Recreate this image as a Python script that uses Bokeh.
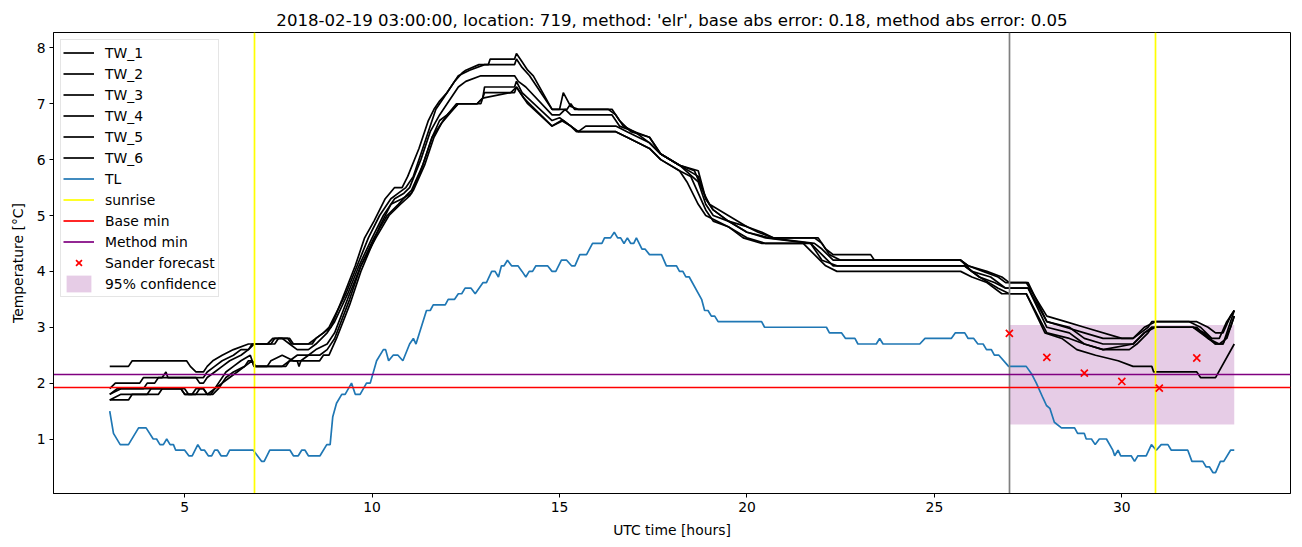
from bokeh.plotting import figure
from bokeh.models import Range1d, FixedTicker, LegendItem
from bokeh.embed import file_html
from bokeh.resources import INLINE

title_text = "2018-02-19 03:00:00, location: 719, method: 'elr', base abs error: 0.18, method abs error: 0.05"

# ---- TL (air temperature) ----
tl_hours = [3.0, 3.1, 3.28, 3.5, 3.77, 3.97, 4.16, 4.25, 4.34, 4.43, 4.52, 4.61, 4.7, 4.76, 5.0, 5.11, 5.2, 5.35, 5.44, 5.53,
            5.63, 5.72, 5.8, 5.88, 5.97, 6.12, 6.2, 6.83, 7.05, 7.12, 7.27, 7.81, 7.9, 8.03, 8.12, 8.21, 8.3, 8.61, 8.79, 8.88,
            8.95, 9.05, 9.19, 9.28, 9.45, 9.55, 9.68, 9.85, 9.95, 10.12, 10.3, 10.36, 10.44, 10.56, 10.69, 10.82, 11.0, 11.1, 11.17, 11.45,
            11.55, 11.63, 11.95, 12.03, 12.2, 12.3, 12.39, 12.48, 12.64, 12.75, 12.96, 13.05, 13.19, 13.28, 13.37, 13.45, 13.52, 13.61, 13.72, 13.89,
            14.0, 14.1, 14.19, 14.28, 14.37, 14.68, 14.8, 14.9, 15.05, 15.19, 15.32, 15.41, 15.54, 15.72, 15.88, 16.13, 16.2, 16.36, 16.46, 16.55,
            16.63, 16.72, 16.81, 16.9, 16.98, 17.05, 17.2, 17.28, 17.4, 17.72, 17.85, 18.12, 18.2, 18.29, 18.37, 18.46, 18.79, 18.87, 18.96, 19.05,
            19.14, 19.23, 20.39, 20.47, 22.12, 22.2, 22.52, 22.63, 22.88, 22.96, 23.45, 23.54, 23.63, 24.61, 24.75, 25.45, 25.56, 25.81, 25.9, 26.05,
            26.16, 26.3, 26.39, 26.52, 26.6, 26.72, 26.98, 27.45, 27.59, 27.72, 27.9, 27.99, 28.08, 28.2, 28.39, 28.74, 28.82, 29.0, 29.05, 29.19,
            29.29, 29.4, 29.59, 29.76, 29.81, 29.9, 29.97, 30.25, 30.34, 30.43, 30.65, 30.79, 30.92, 31.05, 31.23, 31.32, 31.76, 31.87, 32.16, 32.25,
            32.34, 32.43, 32.5, 32.63, 32.72, 32.9, 33.0]
tl_temp = [1.5, 1.1, 0.9, 0.9, 1.2, 1.2, 1.0, 1.0, 0.9, 0.9, 1.0, 0.9, 0.9, 0.8, 0.8, 0.7, 0.7, 0.9, 0.8, 0.8,
           0.7, 0.7, 0.8, 0.8, 0.7, 0.7, 0.8, 0.8, 0.6, 0.6, 0.8, 0.8, 0.7, 0.7, 0.8, 0.8, 0.7, 0.7, 0.9, 0.9,
           1.4, 1.64, 1.8, 1.8, 2.0, 1.8, 1.8, 2.0, 2.0, 2.4, 2.6, 2.6, 2.4, 2.5, 2.5, 2.4, 2.7, 2.8, 2.7, 3.3,
           3.3, 3.4, 3.4, 3.5, 3.5, 3.6, 3.6, 3.7, 3.7, 3.6, 3.8, 3.8, 4.0, 4.0, 3.9, 4.1, 4.1, 4.2, 4.1, 4.1,
           4.0, 3.9, 4.0, 4.0, 4.1, 4.1, 4.0, 4.0, 4.2, 4.2, 4.1, 4.1, 4.3, 4.3, 4.5, 4.5, 4.6, 4.6, 4.7, 4.6,
           4.6, 4.5, 4.6, 4.5, 4.5, 4.6, 4.4, 4.4, 4.3, 4.3, 4.1, 4.1, 4.0, 4.0, 3.9, 3.9, 3.5, 3.3, 3.3, 3.2,
           3.2, 3.1, 3.1, 3.0, 3.0, 2.9, 2.9, 2.8, 2.8, 2.7, 2.7, 2.8, 2.7, 2.7, 2.8, 2.8, 2.9, 2.9, 2.8, 2.8,
           2.7, 2.7, 2.6, 2.6, 2.5, 2.5, 2.3, 2.3, 2.17, 2.0, 1.73, 1.6, 1.55, 1.3, 1.2, 1.2, 1.1, 1.1, 1.0, 1.0,
           0.9, 1.0, 1.0, 0.8, 0.7, 0.8, 0.7, 0.7, 0.6, 0.7, 0.7, 0.9, 0.8, 0.9, 0.9, 0.8, 0.8, 0.6, 0.6, 0.5,
           0.5, 0.4, 0.4, 0.6, 0.6, 0.8, 0.8]

# ---- TW_1 ... TW_6 (surface temperatures) ----
tw1_hours = [3.0, 3.5, 3.6, 5.05, 5.15, 5.3, 5.5, 5.6, 5.75, 6.0, 6.3, 6.7, 7.4, 7.5, 7.8, 7.9, 8.4, 8.5, 8.7, 8.9,
             9.2, 9.55, 9.8, 10.05, 10.35, 10.6, 10.8, 10.95, 11.25, 11.5, 11.65, 11.8, 12.0, 12.2, 12.4, 12.5, 12.85, 13.1, 13.15, 13.8,
             13.85, 14.0, 14.15, 14.3, 14.8, 15.0, 15.1, 15.3, 15.5, 16.3, 16.5, 16.7, 17.0, 17.4, 17.7, 18.2, 18.6, 18.85, 19.0, 19.5,
             20.0, 20.4, 20.7, 21.9, 22.1, 22.3, 23.3, 23.4, 25.7, 25.9, 26.3, 26.7, 26.9, 27.45, 28.0, 28.5, 29.0, 30.0, 30.3, 30.5,
             30.7, 30.8, 32.0, 32.3, 32.5, 32.7, 32.9, 33.0]
tw1_temp = [2.3, 2.3, 2.4, 2.4, 2.3, 2.2, 2.2, 2.3, 2.4, 2.5, 2.6, 2.7, 2.7, 2.8, 2.8, 2.7, 2.7, 2.8, 2.9, 3.0,
            3.5, 4.1, 4.6, 4.9, 5.3, 5.5, 5.5, 5.7, 6.2, 6.7, 6.9, 7.05, 7.2, 7.4, 7.55, 7.6, 7.7, 7.7, 7.8, 7.8,
            7.9, 7.75, 7.6, 7.5, 6.9, 6.9, 7.2, 6.95, 6.9, 6.9, 6.8, 6.6, 6.5, 6.4, 6.1, 5.9, 5.8, 5.4, 5.2, 5.0,
            4.8, 4.7, 4.6, 4.6, 4.4, 4.3, 4.3, 4.2, 4.2, 4.1, 4.0, 3.9, 3.8, 3.8, 3.2, 3.1, 3.0, 2.8, 2.8, 2.9,
            3.0, 3.1, 3.1, 3.0, 2.9, 2.9, 3.2, 3.3]

tw2_hours = [3.0, 3.15, 3.8, 3.9, 4.4, 4.5, 4.55, 5.5, 5.6, 5.8, 6.0, 6.3, 6.5, 6.7, 6.8, 7.3, 7.4, 7.75, 7.85, 8.3,
             8.5, 8.7, 8.85, 9.3, 9.6, 9.9, 10.2, 10.5, 10.7, 10.9, 11.1, 11.35, 11.55, 11.7, 11.9, 12.1, 12.3, 12.6, 13.0, 13.8,
             13.85, 14.0, 14.2, 14.8, 15.2, 15.3, 15.4, 16.4, 16.6, 16.9, 17.4, 17.7, 18.2, 18.7, 18.9, 19.1, 19.5, 20.0, 20.3, 20.7,
             21.8, 22.0, 22.2, 22.5, 25.7, 25.9, 26.4, 26.8, 27.0, 27.5, 28.0, 28.5, 29.0, 29.5, 30.3, 30.6, 30.9, 31.8, 32.1, 32.4,
             32.6, 32.8, 33.0]
tw2_temp = [1.9, 2.0, 2.0, 2.1, 2.1, 2.2, 2.1, 2.1, 2.2, 2.3, 2.4, 2.5, 2.6, 2.6, 2.7, 2.7, 2.8, 2.8, 2.7, 2.7,
            2.8, 2.9, 3.0, 3.6, 4.1, 4.6, 5.0, 5.3, 5.4, 5.5, 5.7, 6.2, 6.6, 6.9, 7.1, 7.3, 7.5, 7.6, 7.7, 7.7,
            7.8, 7.65, 7.5, 6.9, 6.9, 7.0, 6.9, 6.9, 6.7, 6.5, 6.4, 6.1, 5.9, 5.8, 5.3, 5.1, 4.9, 4.8, 4.7, 4.6,
            4.6, 4.5, 4.3, 4.2, 4.2, 4.1, 4.0, 3.9, 3.8, 3.8, 3.1, 3.0, 2.9, 2.8, 2.8, 3.0, 3.1, 3.1, 3.0, 2.8,
            2.8, 3.1, 3.3]

tw3_hours = [3.0, 3.2, 3.9, 4.0, 4.2, 4.3, 5.3, 5.4, 5.5, 5.6, 5.8, 6.0, 6.2, 6.5, 6.7, 6.85, 7.2, 7.35, 7.6, 7.8,
             8.0, 8.3, 8.5, 8.8, 9.0, 9.35, 9.65, 10.0, 10.3, 10.6, 10.85, 11.0, 11.3, 11.55, 11.8, 12.0, 12.3, 12.5, 12.9, 13.8,
             13.9, 14.1, 14.8, 15.0, 15.15, 15.3, 16.4, 16.6, 17.0, 17.4, 17.7, 18.2, 18.7, 18.9, 19.1, 19.5, 20.0, 20.6, 21.8, 22.0,
             22.3, 25.7, 26.0, 26.5, 26.9, 27.5, 28.0, 28.6, 29.0, 29.5, 30.3, 30.6, 30.9, 31.9, 32.2, 32.5, 32.7, 32.9, 33.0]
tw3_temp = [1.8, 1.9, 1.9, 2.0, 2.0, 2.1, 2.1, 2.0, 2.0, 2.1, 2.2, 2.3, 2.4, 2.5, 2.6, 2.7, 2.7, 2.8, 2.8, 2.7,
            2.6, 2.6, 2.7, 2.9, 3.1, 3.6, 4.1, 4.6, 5.0, 5.3, 5.4, 5.5, 6.0, 6.5, 6.8, 7.0, 7.3, 7.4, 7.5, 7.5,
            7.4, 7.3, 6.8, 6.8, 6.9, 6.8, 6.8, 6.6, 6.5, 6.3, 6.1, 5.9, 5.7, 5.3, 5.1, 4.9, 4.7, 4.6, 4.5, 4.4,
            4.2, 4.2, 4.0, 3.9, 3.7, 3.7, 3.1, 3.0, 2.8, 2.7, 2.7, 2.9, 3.0, 3.0, 2.9, 2.7, 2.7, 3.0, 3.2]

tw4_hours = [3.0, 3.3, 5.0, 5.1, 5.3, 5.4, 5.5, 5.6, 5.7, 5.9, 6.1, 6.3, 6.5, 6.75, 6.85, 7.6, 7.8, 8.0, 8.3, 8.5,
             8.8, 9.0, 9.4, 9.7, 10.05, 10.4, 10.7, 10.9, 11.05, 11.35, 11.6, 11.8, 12.0, 12.3, 12.8, 12.95, 13.0, 13.8, 13.85, 14.0,
             14.8, 15.0, 15.3, 15.5, 15.7, 16.5, 16.8, 17.4, 17.7, 18.2, 18.7, 18.9, 19.1, 19.5, 20.0, 20.5, 21.7, 22.0, 22.3, 22.7,
             25.8, 26.2, 26.6, 26.9, 27.5, 28.0, 28.6, 29.0, 29.5, 30.3, 30.6, 30.8, 31.9, 32.3, 32.5, 32.7, 32.9, 33.0]
tw4_temp = [1.8, 1.9, 1.9, 1.8, 1.8, 1.9, 1.9, 1.8, 1.8, 2.0, 2.2, 2.3, 2.4, 2.5, 2.3, 2.3, 2.4, 2.5, 2.5, 2.6,
            2.7, 2.9, 3.6, 4.1, 4.6, 5.0, 5.2, 5.35, 5.45, 5.9, 6.4, 6.7, 6.8, 7.0, 7.0, 7.1, 7.3, 7.3, 7.4, 7.2,
            6.7, 6.75, 6.6, 6.5, 6.6, 6.6, 6.5, 6.3, 6.1, 5.9, 5.6, 5.2, 5.0, 4.9, 4.7, 4.6, 4.5, 4.3, 4.1, 4.1,
            4.1, 3.9, 3.8, 3.7, 3.7, 3.0, 2.9, 2.7, 2.6, 2.7, 2.9, 3.0, 3.0, 2.8, 2.7, 2.7, 3.1, 3.3]

tw5_hours = [3.0, 3.3, 4.0, 4.1, 4.9, 5.0, 5.2, 5.3, 5.5, 5.6, 5.75, 5.9, 6.1, 6.3, 6.6, 6.8, 6.9, 7.2, 7.3, 7.6,
             7.9, 8.1, 8.3, 8.6, 8.8, 9.0, 9.4, 9.7, 10.1, 10.45, 10.75, 11.0, 11.1, 11.4, 11.65, 11.85, 12.1, 12.3, 12.9, 13.0,
             13.8, 13.85, 14.05, 14.15, 14.8, 15.05, 15.3, 15.5, 16.5, 16.8, 17.4, 17.7, 18.2, 18.5, 18.7, 18.9, 19.1, 19.5, 20.0, 20.5,
             21.7, 22.0, 22.4, 25.8, 26.2, 26.7, 27.0, 27.45, 28.0, 28.6, 29.0, 29.5, 30.2, 30.4, 30.7, 30.8, 32.0, 32.3, 32.6, 32.8,
             32.9, 33.0]
tw5_temp = [1.7, 1.8, 1.8, 1.9, 1.9, 1.8, 1.8, 1.9, 1.9, 1.8, 1.8, 1.9, 2.1, 2.2, 2.3, 2.4, 2.3, 2.3, 2.4, 2.5,
            2.4, 2.4, 2.5, 2.5, 2.6, 2.8, 3.5, 4.1, 4.6, 5.0, 5.2, 5.35, 5.45, 5.9, 6.4, 6.65, 6.85, 7.0, 7.0, 7.2,
            7.2, 7.3, 7.1, 7.0, 6.6, 6.7, 6.6, 6.5, 6.5, 6.4, 6.2, 6.0, 5.8, 5.7, 5.4, 5.1, 4.9, 4.8, 4.6, 4.5,
            4.5, 4.2, 4.1, 4.1, 3.9, 3.7, 3.6, 3.6, 2.9, 2.8, 2.7, 2.6, 2.6, 2.7, 2.9, 3.0, 3.0, 2.8, 2.7, 2.8,
            3.0, 3.2]

tw6_hours = [3.0, 3.5, 3.6, 4.3, 4.4, 4.9, 5.0, 5.6, 5.8, 6.0, 6.2, 6.4, 6.6, 6.7, 6.8, 6.85, 7.7, 7.8, 8.0, 8.05,
             8.1, 8.6, 8.7, 8.85, 9.05, 9.4, 9.7, 10.2, 10.5, 10.8, 11.05, 11.3, 11.6, 11.8, 12.0, 12.25, 12.8, 12.95, 13.7, 13.85,
             14.05, 14.2, 14.8, 15.1, 15.3, 15.45, 16.5, 16.8, 17.4, 17.7, 18.2, 18.4, 18.7, 18.9, 19.5, 19.9, 20.4, 21.5, 21.8, 22.1,
             22.4, 25.7, 26.0, 26.4, 26.8, 27.45, 27.95, 28.4, 28.8, 29.3, 29.9, 30.3, 30.8, 30.85, 32.0, 32.1, 32.5, 33.0]
tw6_temp = [1.7, 1.7, 1.8, 1.8, 1.9, 1.9, 1.8, 1.8, 1.9, 2.0, 2.1, 2.2, 2.3, 2.4, 2.4, 2.3, 2.3, 2.4, 2.4, 2.3,
            2.4, 2.4, 2.5, 2.5, 2.8, 3.4, 4.0, 4.8, 5.2, 5.3, 5.4, 5.8, 6.4, 6.6, 6.8, 7.0, 7.0, 7.1, 7.2, 7.3,
            7.1, 7.0, 6.6, 6.7, 6.6, 6.5, 6.5, 6.4, 6.2, 6.0, 5.8, 5.6, 5.2, 5.0, 4.8, 4.6, 4.5, 4.5, 4.3, 4.1,
            4.0, 4.0, 3.9, 3.8, 3.6, 3.6, 2.9, 2.8, 2.6, 2.5, 2.4, 2.3, 2.3, 2.2, 2.2, 2.1, 2.1, 2.7]

tw_series = [("TW_1", tw1_hours, tw1_temp), ("TW_2", tw2_hours, tw2_temp), ("TW_3", tw3_hours, tw3_temp),
             ("TW_4", tw4_hours, tw4_temp), ("TW_5", tw5_hours, tw5_temp), ("TW_6", tw6_hours, tw6_temp)]

sunrise_hours = [6.86, 30.89]
forecast_start = [27.0]
base_min = [1.92]
method_min = [2.15]
sander_hours = [27, 28, 29, 30, 31, 32]
sander_temp = [2.89, 2.46, 2.18, 2.03, 1.91, 2.45]
conf_start = [27.0]
conf_end = [33.0]
conf_low = [1.26]
conf_high = [3.04]

x_ticks = [5, 10, 15, 20, 25, 30]
y_ticks = [1, 2, 3, 4, 5, 6, 7, 8]

FONT = "DejaVu Sans"

p = figure(width=1302, height=547, output_backend="svg", toolbar_location=None,
           x_range=Range1d(1.5, 34.5), y_range=Range1d(0.025, 8.275),
           min_border_left=53, min_border_right=12, min_border_top=32, min_border_bottom=54,
           background_fill_color="white", border_fill_color="white")

p.title.text = title_text
p.title.align = "center"
p.title.text_font = FONT
p.title.text_font_size = "16.6px"
p.title.text_font_style = "normal"
p.title.text_color = "black"
p.title.standoff = 6

p.xgrid.visible = False
p.ygrid.visible = False
p.outline_line_color = "black"
p.outline_line_width = 1
p.outline_line_alpha = 1

for ax in (p.xaxis[0], p.yaxis[0]):
    ax.axis_line_color = "black"
    ax.major_tick_line_color = "black"
    ax.minor_tick_line_color = None
    ax.major_tick_in = 0
    ax.major_tick_out = 4
    ax.major_label_standoff = 4
    ax.major_label_text_font = FONT
    ax.major_label_text_font_size = "13.9px"
    ax.major_label_text_color = "black"
    ax.axis_label_text_font = FONT
    ax.axis_label_text_font_size = "13.9px"
    ax.axis_label_text_font_style = "normal"
    ax.axis_label_text_color = "black"

p.xaxis.ticker = FixedTicker(ticks=x_ticks)
p.yaxis.ticker = FixedTicker(ticks=y_ticks)
p.xaxis.axis_label = "UTC time [hours]"
p.yaxis.axis_label = "Temperature [°C]"
p.xaxis.axis_label_standoff = 7
p.yaxis.axis_label_standoff = 8

# confidence band (behind everything)
conf = p.quad(left=conf_start, right=conf_end, bottom=conf_low, top=conf_high,
              fill_color="purple", fill_alpha=0.2, line_color=None)

for name, hrs, tmp in tw_series:
    p.line(hrs, tmp, line_color="black", line_width=1.7, legend_label=name)

p.line(tl_hours, tl_temp, line_color="#1f77b4", line_width=1.7, legend_label="TL")
p.vspan(x=sunrise_hours, line_color="yellow", line_width=1.7, legend_label="sunrise")
p.vspan(x=forecast_start, line_color="gray", line_width=1.7)
p.hspan(y=base_min, line_color="red", line_width=1.7, legend_label="Base min")
p.hspan(y=method_min, line_color="purple", line_width=1.7, legend_label="Method min")
p.scatter(sander_hours, sander_temp, marker="x", size=10, line_color="red", line_width=1.7,
          legend_label="Sander forecast")

leg = p.legend[0]
leg.items.append(LegendItem(label="95% confidence", renderers=[conf]))

leg.location = "top_left"
leg.margin = 7
leg.padding = 2
leg.spacing = 0
leg.label_height = 21
leg.glyph_height = 21
leg.glyph_width = 31
leg.label_standoff = 11
leg.label_text_font = FONT
leg.label_text_font_size = "13.9px"
leg.label_text_color = "black"
leg.border_line_color = "#cccccc"
leg.border_line_width = 1
leg.background_fill_color = "white"
leg.background_fill_alpha = 0.8

open("out.html", "w").write(file_html(p, INLINE))
